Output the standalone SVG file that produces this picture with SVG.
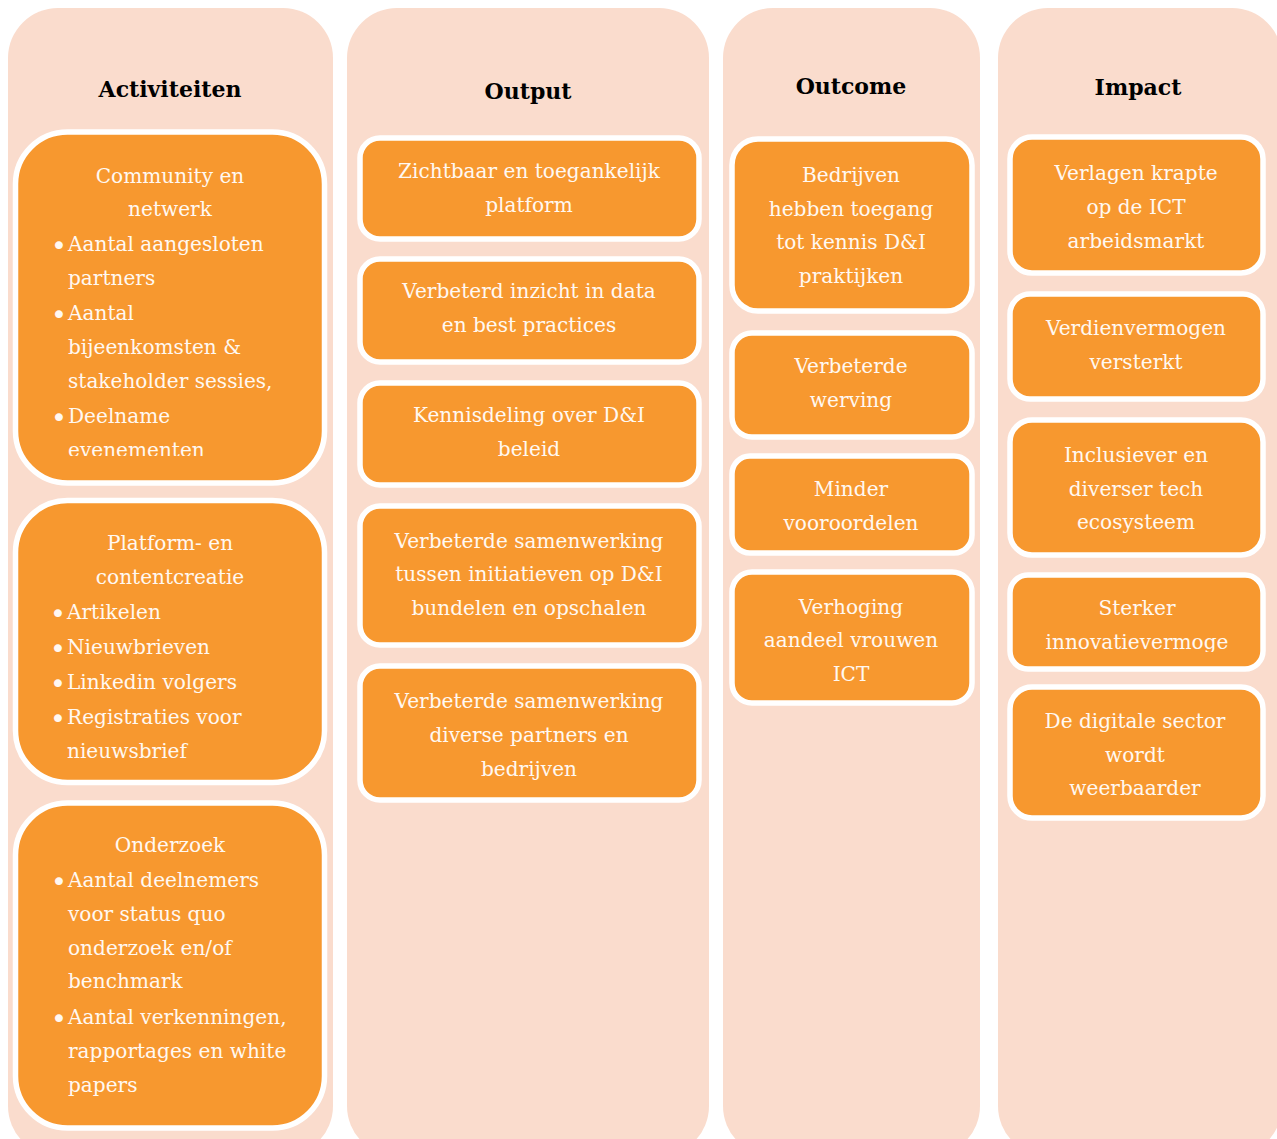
<svg xmlns="http://www.w3.org/2000/svg" width="1277" height="1139" viewBox="0 0 1277 1139">
  <style>
    .col { fill: #FADCCD; }
    .box { fill: #F7982F; stroke: #FFFFFF; stroke-width: 5.5; }
    .head { font-family: "DejaVu Serif", "Liberation Serif", serif; font-weight: bold; font-size: 22px; fill: #000000; text-anchor: middle; }
    .t { font-family: "DejaVu Serif", "Liberation Serif", serif; font-size: 20.1px; fill: #FFF8F2; }
    .c { text-anchor: middle; }
    .b { font-family: "DejaVu Sans", sans-serif; font-size: 27px; fill: #FFF8F2; }
  </style>
  <defs>
    <clipPath id="clip-community"><rect x="18" y="135" width="304" height="321"/></clipPath>
    <clipPath id="clip-sterker"><rect x="1013" y="578" width="247" height="74"/></clipPath>
  </defs>
  <rect width="1277" height="1139" fill="#FFFFFF"/>

  <!-- column panels -->
  <g id="columns">
    <rect class="col" x="8" y="8" width="325" height="1148" rx="50"/>
    <rect class="col" x="347" y="8" width="362" height="1148" rx="50"/>
    <rect class="col" x="723" y="8" width="257" height="1148" rx="50"/>
    <rect class="col" x="998" y="8" width="284" height="1148" rx="50"/>
  </g>

  <!-- column headings -->
  <g id="headings">
    <text class="head" x="170" y="97">Activiteiten</text>
    <text class="head" x="528" y="99">Output</text>
    <text class="head" x="851" y="94">Outcome</text>
    <text class="head" x="1138" y="95">Impact</text>
  </g>

  <!-- Activiteiten -->
  <g id="act-community">
    <rect class="box" x="15.5" y="132" width="309" height="351" rx="52"/>
    <g clip-path="url(#clip-community)">
      <g class="t">
        <text class="c" x="170" y="183">Community en</text>
        <text class="c" x="170" y="216">netwerk</text>
        <text x="68" y="251">Aantal aangesloten</text>
        <text x="68" y="285">partners</text>
        <text x="68" y="320">Aantal</text>
        <text x="68" y="354">bijeenkomsten &amp;</text>
        <text x="68" y="388">stakeholder sessies,</text>
        <text x="68" y="423">Deelname</text>
        <text x="68" y="457">evenementen</text>
      </g>
      <g class="b">
        <text x="51" y="255">•</text>
        <text x="51" y="324">•</text>
        <text x="51" y="427">•</text>
      </g>
    </g>
  </g>
  <g id="act-platform">
    <rect class="box" x="15.5" y="500.5" width="309" height="282" rx="52"/>
    <g class="t">
      <text class="c" x="170" y="550">Platform- en</text>
      <text class="c" x="170" y="584">contentcreatie</text>
      <text x="67" y="619">Artikelen</text>
      <text x="67" y="654">Nieuwbrieven</text>
      <text x="67" y="689">Linkedin volgers</text>
      <text x="67" y="724">Registraties voor</text>
      <text x="67" y="758">nieuwsbrief</text>
    </g>
    <g class="b">
      <text x="50" y="623">•</text>
      <text x="50" y="658">•</text>
      <text x="50" y="693">•</text>
      <text x="50" y="728">•</text>
    </g>
  </g>
  <g id="act-onderzoek">
    <rect class="box" x="15.5" y="803" width="309" height="325" rx="52"/>
    <g class="t">
      <text class="c" x="170" y="852">Onderzoek</text>
      <text x="68" y="887">Aantal deelnemers</text>
      <text x="68" y="921">voor status quo</text>
      <text x="68" y="955">onderzoek en/of</text>
      <text x="68" y="988">benchmark</text>
      <text x="68" y="1024">Aantal verkenningen,</text>
      <text x="68" y="1058">rapportages en white</text>
      <text x="68" y="1092">papers</text>
    </g>
    <g class="b">
      <text x="51" y="891">•</text>
      <text x="51" y="1028">•</text>
    </g>
  </g>

  <!-- Output -->
  <g id="out-platform">
    <rect class="box" x="360" y="138" width="339" height="101" rx="20"/>
    <g class="t c"><text x="529" y="178">Zichtbaar en toegankelijk</text><text x="529" y="212">platform</text></g>
  </g>
  <g id="out-inzicht">
    <rect class="box" x="360" y="259" width="339" height="103" rx="20"/>
    <g class="t c"><text x="529" y="298">Verbeterd inzicht in data</text><text x="529" y="332">en best practices</text></g>
  </g>
  <g id="out-kennis">
    <rect class="box" x="360" y="383" width="339" height="102" rx="20"/>
    <g class="t c"><text x="529" y="422">Kennisdeling over D&amp;I</text><text x="529" y="456">beleid</text></g>
  </g>
  <g id="out-initiatieven">
    <rect class="box" x="360" y="506" width="339" height="139" rx="20"/>
    <g class="t c"><text x="529" y="548">Verbeterde samenwerking</text><text x="529" y="581">tussen initiatieven op D&amp;I</text><text x="529" y="615">bundelen en opschalen</text></g>
  </g>
  <g id="out-partners">
    <rect class="box" x="360" y="666" width="339" height="134" rx="20"/>
    <g class="t c"><text x="529" y="708">Verbeterde samenwerking</text><text x="529" y="742">diverse partners en</text><text x="529" y="776">bedrijven</text></g>
  </g>

  <!-- Outcome -->
  <g id="oc-toegang">
    <rect class="box" x="732" y="139" width="240" height="172" rx="26"/>
    <g class="t c"><text x="851" y="182">Bedrijven</text><text x="851" y="216">hebben toegang</text><text x="851" y="249">tot kennis D&amp;I</text><text x="851" y="283">praktijken</text></g>
  </g>
  <g id="oc-werving">
    <rect class="box" x="732" y="333" width="240" height="104" rx="20"/>
    <g class="t c"><text x="851" y="373">Verbeterde</text><text x="851" y="407">werving</text></g>
  </g>
  <g id="oc-vooroordelen">
    <rect class="box" x="732" y="456" width="240" height="97" rx="18"/>
    <g class="t c"><text x="851" y="496">Minder</text><text x="851" y="530">vooroordelen</text></g>
  </g>
  <g id="oc-vrouwen">
    <rect class="box" x="732" y="572" width="240" height="131" rx="20"/>
    <g class="t c"><text x="851" y="614">Verhoging</text><text x="851" y="647">aandeel vrouwen</text><text x="851" y="681">ICT</text></g>
  </g>

  <!-- Impact -->
  <g id="im-krapte">
    <rect class="box" x="1010" y="137" width="253" height="136" rx="22"/>
    <g class="t c"><text x="1136" y="180">Verlagen krapte</text><text x="1136" y="214">op de ICT</text><text x="1136" y="248">arbeidsmarkt</text></g>
  </g>
  <g id="im-verdienvermogen">
    <rect class="box" x="1010" y="294" width="253" height="105" rx="20"/>
    <g class="t c"><text x="1136" y="335">Verdienvermogen</text><text x="1136" y="369">versterkt</text></g>
  </g>
  <g id="im-ecosysteem">
    <rect class="box" x="1010" y="420" width="253" height="135" rx="22"/>
    <g class="t c"><text x="1136" y="462">Inclusiever en</text><text x="1136" y="496">diverser tech</text><text x="1136" y="529">ecosysteem</text></g>
  </g>
  <g id="im-innovatie">
    <rect class="box" x="1010" y="575" width="253" height="94" rx="18"/>
    <g class="t c" clip-path="url(#clip-sterker)"><text x="1137" y="615">Sterker</text><text x="1137" y="649">innovatievermoge</text></g>
  </g>
  <g id="im-weerbaar">
    <rect class="box" x="1010" y="687" width="253" height="131" rx="22"/>
    <g class="t c"><text x="1135" y="728">De digitale sector</text><text x="1135" y="762">wordt</text><text x="1135" y="795">weerbaarder</text></g>
  </g>

  <!-- no connectors are drawn between the columns -->
  <g id="connectors"/>
</svg>
